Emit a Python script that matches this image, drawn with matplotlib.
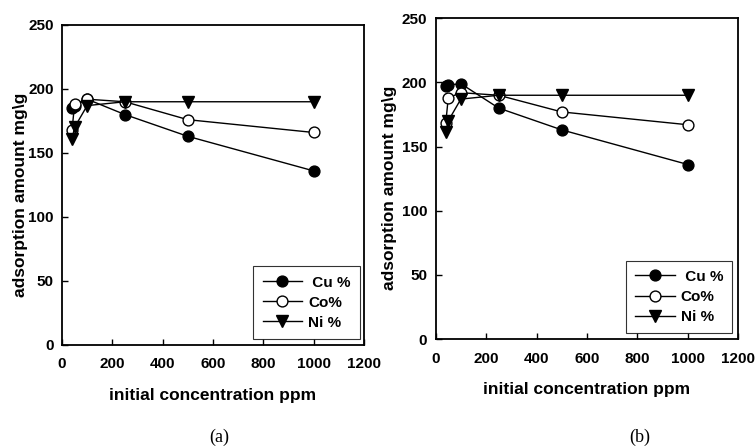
import numpy as np
import matplotlib
matplotlib.use('Agg')
from matplotlib import pyplot as plt

plt.rcParams['font.family'] = ['Liberation Sans', 'DejaVu Sans']

# 初始濃度 ppm
conc = [40, 50, 100, 250, 500, 1000]

# (a)
cu_a = [185, 187, 192, 180, 163, 136]
co_a = [168, 188, 192, 190, 176, 166]
ni_a = [161, 170, 187, 190, 190, 190]

# (b)
cu_b = [197, 198, 199, 180, 163, 136]
co_b = [168, 188, 192, 190, 177, 167]
ni_b = [161, 170, 187, 190, 190, 190]

labels = [' Cu %', 'Co%', 'Ni %']
xticks = [0, 200, 400, 600, 800, 1000, 1200]
yticks = [0, 50, 100, 150, 200, 250]

fig = plt.figure(figsize=(7.55, 4.47), dpi=100)
ax_a = fig.add_axes([0.0821, 0.2282, 0.400, 0.716])
ax_b = fig.add_axes([0.577, 0.2416, 0.401, 0.7175])


def draw(ax, cu, co, ni, legend_box, ylab_x):
    ax.plot(conc, cu, '-o', color='black', mfc='black', ms=7.8, lw=1, label=labels[0])
    ax.plot(conc, co, '-o', color='black', mfc='white', ms=7.8, lw=1, label=labels[1])
    ax.plot(conc, ni, '-v', color='black', mfc='black', ms=8.2, lw=1, label=labels[2])
    ax.set_xlim(0, 1200)
    ax.set_ylim(0, 250)
    ax.set_xticks(xticks)
    ax.set_yticks(yticks)
    ax.tick_params(direction='in', length=4, width=1, labelsize=11)
    ax.tick_params(axis='x', pad=9)
    ax.tick_params(axis='y', pad=6)
    for lab in ax.get_xticklabels() + ax.get_yticklabels():
        lab.set_fontweight('bold')
    for s in ax.spines.values():
        s.set_linewidth(1.3)
    ax.set_xlabel('initial concentration ppm', fontsize=12.5, fontweight='bold', labelpad=12)
    ax.set_ylabel('adsorption amount mg\\g', fontsize=12.5, fontweight='bold', va='center')
    ax.yaxis.set_label_coords(ylab_x, 0.47)
    leg = ax.legend(loc='lower right', bbox_to_anchor=legend_box, frameon=True, fancybox=False,
                    edgecolor='black', prop={'weight': 'bold', 'size': 11}, borderaxespad=0,
                    handlelength=2.6, borderpad=0.6, labelspacing=0.4, handletextpad=0.4)
    leg.get_frame().set_linewidth(0.8)


draw(ax_a, cu_a, co_a, ni_a, (0.987, 0.019), -0.139)
draw(ax_b, cu_b, co_b, ni_b, (0.980, 0.018), -0.151)

fig.text(219 / 755, 1 - 437 / 447, '(a)', family=['Liberation Serif'], fontsize=13, ha='center', va='center')
fig.text(640 / 755, 1 - 437 / 447, '(b)', family=['Liberation Serif'], fontsize=13, ha='center', va='center')

fig.savefig('out.png', dpi=100)
